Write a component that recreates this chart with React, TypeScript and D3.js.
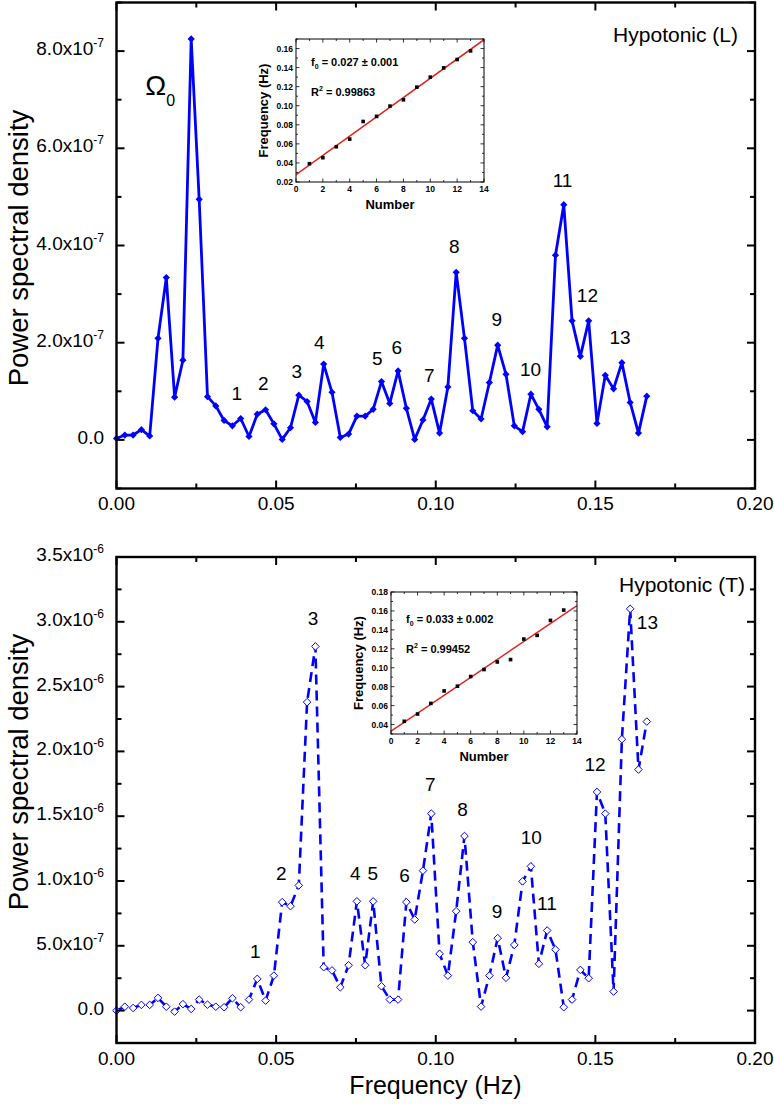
import React from "react";
import * as d3 from "d3";

// ---------- DATA ----------
const FREQ_HZ = [0, 0.0026, 0.0052, 0.0078, 0.0104, 0.013, 0.0156, 0.0182, 0.0208, 0.0234, 0.0259, 0.0285, 0.0311, 0.0337, 0.0363, 0.0389, 0.0415, 0.0441, 0.0467, 0.0493, 0.0519, 0.0545, 0.0571, 0.0597, 0.0623, 0.0649, 0.0675, 0.0701, 0.0727, 0.0753, 0.0779, 0.0804, 0.083, 0.0856, 0.0882, 0.0908, 0.0934, 0.096, 0.0986, 0.1012, 0.1038, 0.1064, 0.109, 0.1116, 0.1142, 0.1168, 0.1194, 0.122, 0.1246, 0.1272, 0.1298, 0.1323, 0.1349, 0.1375, 0.1401, 0.1427, 0.1453, 0.1479, 0.1505, 0.1531, 0.1557, 0.1583, 0.1609, 0.1635, 0.1661];

// Hypotonic (L), units of 1e-7
const PSD_L = [0.03, 0.1, 0.1, 0.21, 0.08, 2.09, 3.34, 0.88, 1.64, 8.25, 4.95, 0.89, 0.7, 0.4, 0.29, 0.44, 0.07, 0.53, 0.62, 0.33, 0.01, 0.25, 0.92, 0.79, 0.36, 1.56, 0.98, 0.05, 0.12, 0.49, 0.49, 0.63, 1.2, 0.75, 1.42, 0.65, 0.01, 0.41, 0.84, 0.14, 1.09, 3.45, 2.09, 0.6, 0.43, 1.18, 1.95, 1.35, 0.29, 0.17, 0.94, 0.63, 0.27, 3.8, 4.84, 2.45, 1.72, 2.45, 0.34, 1.33, 1.05, 1.59, 0.77, 0.14, 0.9];

// Hypotonic (T), units of 1e-6
const PSD_T = [0.0, 0.03, 0.02, 0.044, 0.044, 0.098, 0.03, -0.008, 0.05, 0.013, 0.085, 0.046, 0.03, 0.026, 0.095, 0.026, 0.085, 0.245, 0.077, 0.27, 0.837, 0.806, 0.966, 2.38, 2.81, 0.335, 0.31, 0.18, 0.35, 0.843, 0.35, 0.843, 0.188, 0.085, 0.085, 0.837, 0.703, 1.08, 1.52, 0.438, 0.27, 0.767, 1.347, 0.528, 0.031, 0.27, 0.559, 0.253, 0.507, 0.997, 1.113, 0.361, 0.618, 0.471, 0.026, 0.085, 0.314, 0.25, 1.687, 1.52, 0.147, 2.094, 3.1, 1.86, 2.23];

// Peak annotations: [text, freq, value] in data units (label centre)
const LABELS_L: [string, number, number][] = [
  ["1", 0.0377, 0.96], ["2", 0.046, 1.17], ["3", 0.0565, 1.42], ["4", 0.0635, 2.02],
  ["5", 0.0817, 1.68], ["6", 0.0878, 1.92], ["7", 0.098, 1.34], ["8", 0.1058, 3.98],
  ["9", 0.1191, 2.48], ["10", 0.1297, 1.45], ["11", 0.1397, 5.35], ["12", 0.1475, 2.98],
  ["13", 0.1577, 2.12],
];
const LABELS_T: [string, number, number][] = [
  ["1", 0.0435, 0.462], ["2", 0.0516, 1.059], ["3", 0.0616, 3.027], ["4", 0.0748, 1.058],
  ["5", 0.0803, 1.062], ["6", 0.0902, 1.046], ["7", 0.0983, 1.746], ["8", 0.1084, 1.553],
  ["9", 0.1192, 0.771], ["10", 0.1299, 1.337], ["11", 0.1348, 0.833], ["12", 0.1499, 1.903],
  ["13", 0.1663, 3.001],
];
const OMEGA_POS: [number, number] = [0.009, 7.1];

// Axis ticks
const X_TICKS = [0, 0.05, 0.1, 0.15, 0.2];
const X_TICK_LABELS = ["0.00", "0.05", "0.10", "0.15", "0.20"];
const X_MINOR = [0.025, 0.075, 0.125, 0.175];

const L_Y_TICKS = [0, 2, 4, 6, 8];
const L_Y_LABELS: [string, string][] = [["0.0", ""], ["2.0x10", "-7"], ["4.0x10", "-7"], ["6.0x10", "-7"], ["8.0x10", "-7"]];
const L_Y_MINOR = [-1, 1, 3, 5, 7, 9];

const T_Y_TICKS = [0, 0.5, 1, 1.5, 2, 2.5, 3, 3.5];
const T_Y_LABELS: [string, string][] = [["0.0", ""], ["5.0x10", "-7"], ["1.0x10", "-6"], ["1.5x10", "-6"], ["2.0x10", "-6"], ["2.5x10", "-6"], ["3.0x10", "-6"], ["3.5x10", "-6"]];
const T_Y_MINOR = [-0.25, 0.25, 0.75, 1.25, 1.75, 2.25, 2.75, 3.25];

// Insets: harmonic number vs frequency
const HARMONIC_N = [1, 2, 3, 4, 5, 6, 7, 8, 9, 10, 11, 12, 13];
const INSET_L_FREQ = [0.0392, 0.0455, 0.057, 0.065, 0.0835, 0.0888, 0.0996, 0.1062, 0.1195, 0.13, 0.1397, 0.1485, 0.1575];
const INSET_T_FREQ = [0.0434, 0.0511, 0.0623, 0.0755, 0.0805, 0.0907, 0.0981, 0.1061, 0.1086, 0.1303, 0.1342, 0.15, 0.1609];
const INSET_X_TICKS = [0, 2, 4, 6, 8, 10, 12, 14];
const INSET_X_MINOR = [1, 3, 5, 7, 9, 11, 13];
const INSET_L_Y_TICKS = [0.02, 0.04, 0.06, 0.08, 0.1, 0.12, 0.14, 0.16];
const INSET_L_Y_MINOR = [0.03, 0.05, 0.07, 0.09, 0.11, 0.13, 0.15, 0.17];
const INSET_T_Y_TICKS = [0.04, 0.06, 0.08, 0.1, 0.12, 0.14, 0.16, 0.18];
const INSET_T_Y_MINOR = [0.03, 0.05, 0.07, 0.09, 0.11, 0.13, 0.15, 0.17];

// ---------- STYLE ----------
const FONT = "'Liberation Sans', Arial, Helvetica, sans-serif";
const BLUE = "#0000ff";
const RED = "#e3231e";

function diamond(x: number, y: number, h: number) {
  return `M${x},${y - h}L${x + h},${y}L${x},${y + h}L${x - h},${y}Z`;
}

function Frame({ x, y, xMinor, yTicks, yMinor, yLabels, xLabelY }: any) {
  const [l, r] = x.range();
  const [b, t] = y.range();
  const M = 8, m = 5;
  return (
    <g>
      {X_TICKS.map((v) => (
        <g key={"xt" + v}>
          <line x1={x(v)} x2={x(v)} y1={b} y2={b - M} stroke="#000" strokeWidth={2} />
          <line x1={x(v)} x2={x(v)} y1={t} y2={t + M} stroke="#000" strokeWidth={2} />
        </g>
      ))}
      {xMinor.map((v: number) => (
        <g key={"xm" + v}>
          <line x1={x(v)} x2={x(v)} y1={b} y2={b - m} stroke="#000" strokeWidth={2} />
          <line x1={x(v)} x2={x(v)} y1={t} y2={t + m} stroke="#000" strokeWidth={2} />
        </g>
      ))}
      {yTicks.map((v: number) => (
        <g key={"yt" + v}>
          <line x1={l} x2={l + M} y1={y(v)} y2={y(v)} stroke="#000" strokeWidth={2} />
          <line x1={r} x2={r - M} y1={y(v)} y2={y(v)} stroke="#000" strokeWidth={2} />
        </g>
      ))}
      {yMinor.map((v: number) => (
        <g key={"ym" + v}>
          <line x1={l} x2={l + m} y1={y(v)} y2={y(v)} stroke="#000" strokeWidth={2} />
          <line x1={r} x2={r - m} y1={y(v)} y2={y(v)} stroke="#000" strokeWidth={2} />
        </g>
      ))}
      <rect x={l} y={t} width={r - l} height={b - t} fill="none" stroke="#000" strokeWidth={2.4} />
      {X_TICKS.map((v, i) => (
        <text key={"xl" + v} x={x(v)} y={xLabelY} textAnchor="middle" fontSize={19} fontFamily={FONT}>
          {X_TICK_LABELS[i]}
        </text>
      ))}
      {yTicks.map((v: number, i: number) => (
        <text key={"yl" + v} x={104} y={y(v) + 4} textAnchor="end" fontSize={19} fontFamily={FONT}>
          {yLabels[i][0]}
          {yLabels[i][1] ? (
            <tspan fontSize={12} dy={-8}>{yLabels[i][1]}</tspan>
          ) : null}
        </text>
      ))}
    </g>
  );
}

function Inset({ left, right, top, bottom, yDomain, yTicks, yMinor, freqs, f0, r2, textDy }: any) {
  const x = d3.scaleLinear().domain([0, 14]).range([left, right]);
  const y = d3.scaleLinear().domain(yDomain).range([bottom, top]);
  const mx = d3.mean(HARMONIC_N)!;
  const my = d3.mean(freqs as number[])!;
  let sxy = 0, sxx = 0;
  HARMONIC_N.forEach((n, i) => { sxy += (n - mx) * (freqs[i] - my); sxx += (n - mx) * (n - mx); });
  const slope = sxy / sxx;
  const icpt = my - slope * mx;
  const line = d3.line<number>().x((n) => x(n)).y((n) => y(icpt + slope * n));
  const clipId = "clip" + Math.round(top);
  const Mj = 3.5, mn = 2;
  return (
    <g>
      <rect x={left} y={top} width={right - left} height={bottom - top} fill="#fff" />
      <defs>
        <clipPath id={clipId}><rect x={left} y={top} width={right - left} height={bottom - top} /></clipPath>
      </defs>
      <path d={line([0, 14]) || ""} stroke={RED} strokeWidth={1.5} fill="none" clipPath={`url(#${clipId})`} />
      {HARMONIC_N.map((n, i) => (
        <rect key={n} x={x(n) - 1.8} y={y(freqs[i]) - 1.8} width={3.6} height={3.6} fill="#000" />
      ))}
      {INSET_X_TICKS.map((v) => (
        <g key={"a" + v}>
          <line x1={x(v)} x2={x(v)} y1={bottom} y2={bottom - Mj} stroke="#000" strokeWidth={0.8} />
          <line x1={x(v)} x2={x(v)} y1={top} y2={top + Mj} stroke="#000" strokeWidth={0.8} />
          <text x={x(v)} y={bottom + 9.5} fontSize={8.5} fontWeight="bold" textAnchor="middle" fontFamily={FONT}>{v}</text>
        </g>
      ))}
      {INSET_X_MINOR.map((v) => (
        <g key={"b" + v}>
          <line x1={x(v)} x2={x(v)} y1={bottom} y2={bottom - mn} stroke="#000" strokeWidth={0.8} />
          <line x1={x(v)} x2={x(v)} y1={top} y2={top + mn} stroke="#000" strokeWidth={0.8} />
        </g>
      ))}
      {yTicks.map((v: number) => (
        <g key={"c" + v}>
          <line x1={left} x2={left + Mj} y1={y(v)} y2={y(v)} stroke="#000" strokeWidth={0.8} />
          <line x1={right} x2={right - Mj} y1={y(v)} y2={y(v)} stroke="#000" strokeWidth={0.8} />
          <text x={left - 3} y={y(v) + 3} fontSize={8.5} fontWeight="bold" textAnchor="end" fontFamily={FONT}>{v.toFixed(2)}</text>
        </g>
      ))}
      {yMinor.map((v: number) => (
        <g key={"d" + v}>
          <line x1={left} x2={left + mn} y1={y(v)} y2={y(v)} stroke="#000" strokeWidth={0.8} />
          <line x1={right} x2={right - mn} y1={y(v)} y2={y(v)} stroke="#000" strokeWidth={0.8} />
        </g>
      ))}
      <rect x={left} y={top} width={right - left} height={bottom - top} fill="none" stroke="#000" strokeWidth={1} />
      <text x={left + 15} y={top + textDy} fontSize={11} fontWeight="bold" fontFamily={FONT}>
        f<tspan fontSize={7} dy={3}>0</tspan><tspan dy={-3}>{" = " + f0}</tspan>
      </text>
      <text x={left + 15} y={top + textDy + 30} fontSize={11} fontWeight="bold" fontFamily={FONT}>
        R<tspan fontSize={7} dy={-5}>2</tspan><tspan dy={5}>{" = " + r2}</tspan>
      </text>
      <text transform={`translate(${left - 28},${(top + bottom) / 2}) rotate(-90)`} textAnchor="middle" fontSize={13} fontWeight="bold" fontFamily={FONT}>
        Frequency (Hz)
      </text>
      <text x={(left + right) / 2} y={bottom + 27} textAnchor="middle" fontSize={13} fontWeight="bold" fontFamily={FONT}>
        Number
      </text>
    </g>
  );
}

export default function App() {
  const W = 774, H = 1104;
  const xL = d3.scaleLinear().domain([0, 0.2]).range([116.5, 755]);
  const yL = d3.scaleLinear().domain([-1, 9]).range([488.5, 2.5]);
  const xT = d3.scaleLinear().domain([0, 0.2]).range([116.5, 755]);
  const yT = d3.scaleLinear().domain([-0.25, 3.5]).range([1043, 557]);

  const lineL = d3.line<number>().x((_, i) => xL(FREQ_HZ[i])).y((v) => yL(v));
  const lineT = d3.line<number>().x((_, i) => xT(FREQ_HZ[i])).y((v) => yT(v));

  return (
    <svg width={W} height={H} viewBox={`0 0 ${W} ${H}`} style={{ position: "absolute", left: 0, top: 0, background: "#fff" }}>
      <rect x={0} y={0} width={W} height={H} fill="#fff" />

      {/* ---- Top panel ---- */}
      <path d={lineL(PSD_L) || ""} fill="none" stroke={BLUE} strokeWidth={2.8} strokeLinejoin="round" />
      {PSD_L.map((v, i) => (
        <path key={i} d={diamond(xL(FREQ_HZ[i]), yL(v), 3.6)} fill={BLUE} />
      ))}
      <Frame x={xL} y={yL} xMinor={X_MINOR} yTicks={L_Y_TICKS} yMinor={L_Y_MINOR} yLabels={L_Y_LABELS} xLabelY={510} />
      {LABELS_L.map(([t, f, v]) => (
        <text key={t} x={xL(f)} y={yL(v) + 7} textAnchor="middle" fontSize={19} fontFamily={FONT}>{t}</text>
      ))}
      <text x={xL(OMEGA_POS[0])} y={yL(OMEGA_POS[1])} fontSize={28} fontFamily={FONT}>
        Ω<tspan fontSize={16} dy={11}>0</tspan>
      </text>
      <text x={738} y={42} textAnchor="end" fontSize={21} fontFamily={FONT}>Hypotonic (L)</text>
      <Inset left={296} right={484} top={39} bottom={182} yDomain={[0.02, 0.17]} yTicks={INSET_L_Y_TICKS} yMinor={INSET_L_Y_MINOR}
        freqs={INSET_L_FREQ} f0="0.027 ± 0.001" r2="0.99863" textDy={27} />
      <text transform="translate(28,248) rotate(-90)" textAnchor="middle" fontSize={27.5} fontFamily={FONT}>Power spectral density</text>

      {/* ---- Bottom panel ---- */}
      <path d={lineT(PSD_T) || ""} fill="none" stroke={BLUE} strokeWidth={2.6} strokeDasharray="10,6" />
      {PSD_T.map((v, i) => (
        <path key={i} d={diamond(xT(FREQ_HZ[i]), yT(v), 3.8)} fill="#fff" stroke={BLUE} strokeWidth={1} />
      ))}
      <Frame x={xT} y={yT} xMinor={X_MINOR} yTicks={T_Y_TICKS} yMinor={T_Y_MINOR} yLabels={T_Y_LABELS} xLabelY={1065} />
      {LABELS_T.map(([t, f, v]) => (
        <text key={t} x={xT(f)} y={yT(v) + 7} textAnchor="middle" fontSize={19} fontFamily={FONT}>{t}</text>
      ))}
      <text x={745} y={592} textAnchor="end" fontSize={21} fontFamily={FONT}>Hypotonic (T)</text>
      <Inset left={391} right={577} top={592} bottom={734} yDomain={[0.03, 0.18]} yTicks={INSET_T_Y_TICKS} yMinor={INSET_T_Y_MINOR}
        freqs={INSET_T_FREQ} f0="0.033 ± 0.002" r2="0.99452" textDy={31} />
      <text transform="translate(28,772) rotate(-90)" textAnchor="middle" fontSize={27.5} fontFamily={FONT}>Power spectral density</text>
      <text x={435.5} y={1094} textAnchor="middle" fontSize={25} fontFamily={FONT}>Frequency (Hz)</text>
    </svg>
  );
}
